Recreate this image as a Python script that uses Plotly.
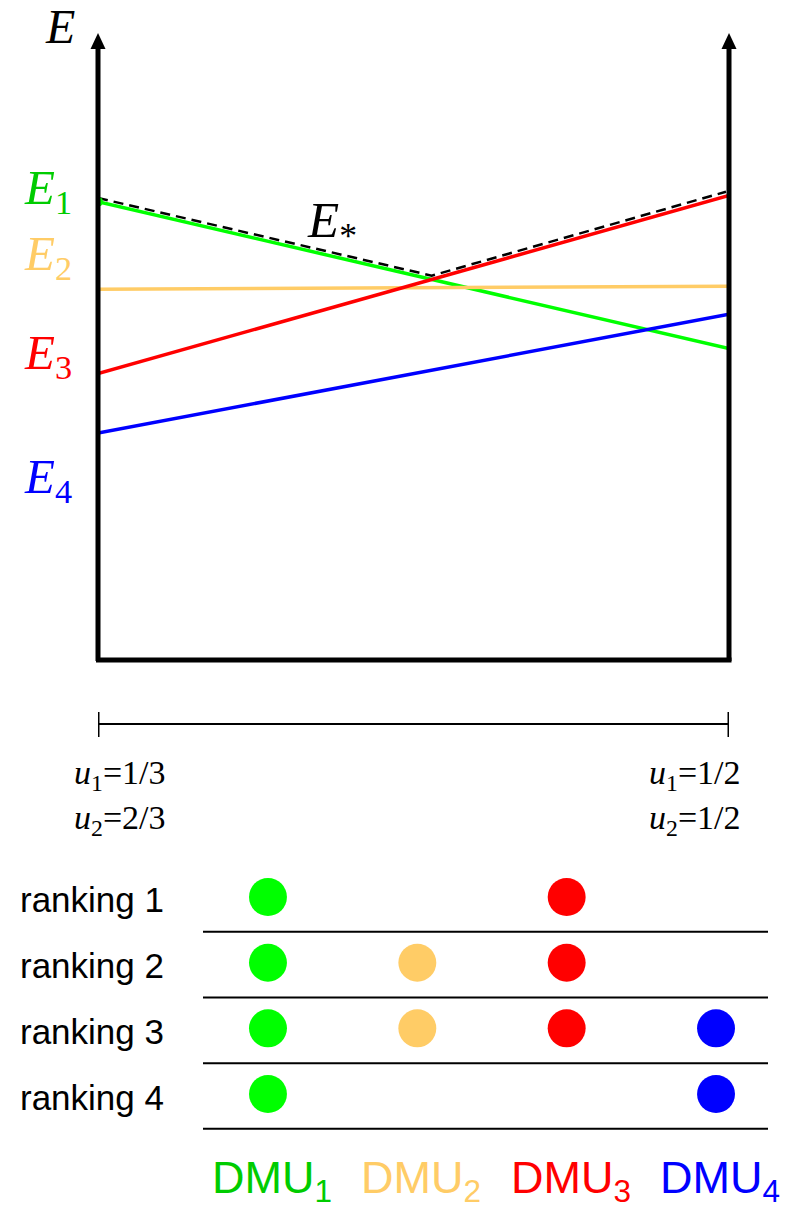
import itertools
import plotly.graph_objects as go

# ---- data -------------------------------------------------------------
dmus = ["DMU1", "DMU2", "DMU3", "DMU4"]
dmu_colors = ["#00ff00", "#ffcc66", "#ff0000", "#0000ff"]
label_colors = ["#00cc00", "#ffcc66", "#ff0000", "#0000ff"]

# weight interval for u1 (u2 = 1 - u1)
u1_bounds = [1 / 3, 1 / 2]
u_labels_left = ["<i>u</i><sub>1</sub>=1/3", "<i>u</i><sub>2</sub>=2/3"]
u_labels_right = ["<i>u</i><sub>1</sub>=1/2", "<i>u</i><sub>2</sub>=1/2"]

# efficiency of each DMU at the two ends of the weight interval
eff_left = [0.73, 0.59, 0.455, 0.36]
eff_right = [0.495, 0.595, 0.74, 0.55]
# where the E_i labels sit on the E axis
eff_label_pos = [0.748, 0.642, 0.484, 0.285]

rankings = ["ranking 1", "ranking 2", "ranking 3", "ranking 4"]
ranking_members = [
    [1, 0, 1, 0],
    [1, 1, 1, 0],
    [1, 1, 1, 1],
    [1, 0, 0, 1],
]

# ---- page geometry helpers -------------------------------------------
W, H = 793, 1209


def fx(p):
    return p / W


def fy(p):
    return 1 - p / H


fig = go.Figure()

# ---- efficiency lines -------------------------------------------------
for i in range(4):
    fig.add_trace(go.Scatter(
        x=u1_bounds, y=[eff_left[i], eff_right[i]],
        mode="lines", line=dict(color=dmu_colors[i], width=3.5),
        xaxis="x", yaxis="y", showlegend=False, hoverinfo="skip"))


# upper envelope E* (max of the linear efficiency functions)
def eff_at(i, u):
    t = (u - u1_bounds[0]) / (u1_bounds[1] - u1_bounds[0])
    return eff_left[i] + t * (eff_right[i] - eff_left[i])


cands = list(u1_bounds)
for a, b in itertools.combinations(range(4), 2):
    da = eff_left[a] - eff_left[b]
    db = eff_right[a] - eff_right[b]
    if da * db < 0:
        t = da / (da - db)
        cands.append(u1_bounds[0] + t * (u1_bounds[1] - u1_bounds[0]))
cands.sort()

keep_x, keep_y = [], []
for k, u in enumerate(cands):
    vals = [eff_at(i, u) for i in range(4)]
    top = max(vals)
    ties = sum(1 for v in vals if abs(v - top) < 1e-9)
    if k == 0 or k == len(cands) - 1 or ties > 1:
        keep_x.append(u)
        keep_y.append(top + 0.006)
keep_x[-1] -= 0.0008

fig.add_trace(go.Scatter(
    x=keep_x, y=keep_y, mode="lines",
    line=dict(color="black", width=2.5, dash="10px,6px"),
    xaxis="x", yaxis="y", showlegend=False, hoverinfo="skip"))

# marker on E1 at the left end
fig.add_trace(go.Scatter(
    x=[u1_bounds[0]], y=[eff_left[0]], mode="markers",
    marker=dict(color=dmu_colors[0], size=10),
    xaxis="x", yaxis="y", showlegend=False, hoverinfo="skip"))

shapes = []
annotations = []

# ---- axes drawn as thick arrows --------------------------------------
for xp in (98, 729):
    shapes.append(dict(type="line", xref="paper", yref="paper",
                       x0=fx(xp), x1=fx(xp), y0=fy(661), y1=fy(46),
                       line=dict(color="black", width=5)))
    path = "M {} {} L {} {} L {} {} Z".format(
        fx(xp), fy(33), fx(xp - 7.5), fy(49), fx(xp + 7.5), fy(49))
    shapes.append(dict(type="path", xref="paper", yref="paper", path=path,
                       fillcolor="black", line=dict(color="black", width=0)))
shapes.append(dict(type="line", xref="paper", yref="paper",
                   x0=fx(96), x1=fx(731.5), y0=fy(660), y1=fy(660),
                   line=dict(color="black", width=5)))

# ---- weight interval bar ---------------------------------------------
bar_y = 724
shapes.append(dict(type="line", xref="x", yref="paper",
                   x0=u1_bounds[0], x1=u1_bounds[1], y0=fy(bar_y), y1=fy(bar_y),
                   line=dict(color="black", width=2)))
for u in u1_bounds:
    shapes.append(dict(type="line", xref="x", yref="paper",
                       x0=u, x1=u, y0=fy(712), y1=fy(737),
                       line=dict(color="black", width=3)))

serif = "Liberation Serif, Times New Roman, serif"
sans = "Liberation Sans, Arial, sans-serif"

for k, (txt_l, txt_r) in enumerate(zip(u_labels_left, u_labels_right)):
    yy = fy(775 + 45 * k)
    annotations.append(dict(text=txt_l, xref="x", yref="paper",
                            x=u1_bounds[0], y=yy, xshift=22, showarrow=False,
                            xanchor="center", yanchor="middle",
                            font=dict(family=serif, size=34, color="black")))
    annotations.append(dict(text=txt_r, xref="x", yref="paper",
                            x=u1_bounds[1], y=yy, xshift=-34, showarrow=False,
                            xanchor="center", yanchor="middle",
                            font=dict(family=serif, size=34, color="black")))

# ---- E labels ---------------------------------------------------------
annotations.append(dict(text="<i>E</i>", xref="paper", yref="paper",
                        x=fx(60), y=fy(27), showarrow=False,
                        xanchor="center", yanchor="middle",
                        font=dict(family=serif, size=48, color="black")))
for i in range(4):
    annotations.append(dict(text="<i>E</i><sub>%d</sub>" % (i + 1),
                            xref="paper", yref="y", x=fx(22), y=eff_label_pos[i],
                            showarrow=False, xanchor="left", yanchor="middle",
                            font=dict(family=serif, size=49, color=label_colors[i])))
annotations.append(dict(text="<i>E</i><sub>*</sub>", xref="paper", yref="paper",
                        x=fx(305), y=fy(224), showarrow=False,
                        xanchor="left", yanchor="middle",
                        font=dict(family=serif, size=51, color="black")))

# ---- ranking panel ---------------------------------------------------
r_x = 0.127
r_y = 0.289
for r, members in enumerate(ranking_members):
    row = r + 1
    for c, flag in enumerate(members):
        if flag:
            shapes.append(dict(type="circle", xref="x2", yref="y2",
                               x0=c - r_x, x1=c + r_x, y0=row - r_y, y1=row + r_y,
                               fillcolor=dmu_colors[c], line=dict(width=0)))
    shapes.append(dict(type="line", xref="paper", yref="y2",
                       x0=fx(203), x1=fx(768), y0=row + 0.53, y1=row + 0.53,
                       line=dict(color="black", width=2)))
    annotations.append(dict(text=rankings[r], xref="paper", yref="y2",
                            x=fx(18), y=row, yshift=-3, showarrow=False,
                            xanchor="left", yanchor="middle",
                            font=dict(family=sans, size=35, color="black")))

for c, name in enumerate(dmus):
    annotations.append(dict(text="DMU<sub>%s</sub>" % name[3:], xref="x2", yref="paper",
                            x=c, y=fy(1180), xshift=4, showarrow=False,
                            xanchor="center", yanchor="middle",
                            font=dict(family=sans, size=45, color=label_colors[c])))

hidden = dict(visible=False, showgrid=False, zeroline=False, fixedrange=True)

fig.update_layout(
    width=W, height=H,
    margin=dict(l=0, r=0, t=0, b=0),
    paper_bgcolor="white", plot_bgcolor="white",
    showlegend=False,
    xaxis=dict(domain=[fx(98), fx(729)], range=u1_bounds, **hidden),
    yaxis=dict(domain=[fy(658), fy(33)], range=[0, 1], **hidden),
    xaxis2=dict(domain=[fx(203), fx(768)], range=[-0.435, 3.348],
                anchor="y2", **hidden),
    yaxis2=dict(domain=[fy(1140), fy(870)], range=[4.70, 0.589],
                anchor="x2", **hidden),
    shapes=shapes,
    annotations=annotations,
)

fig.write_html("out.html")
